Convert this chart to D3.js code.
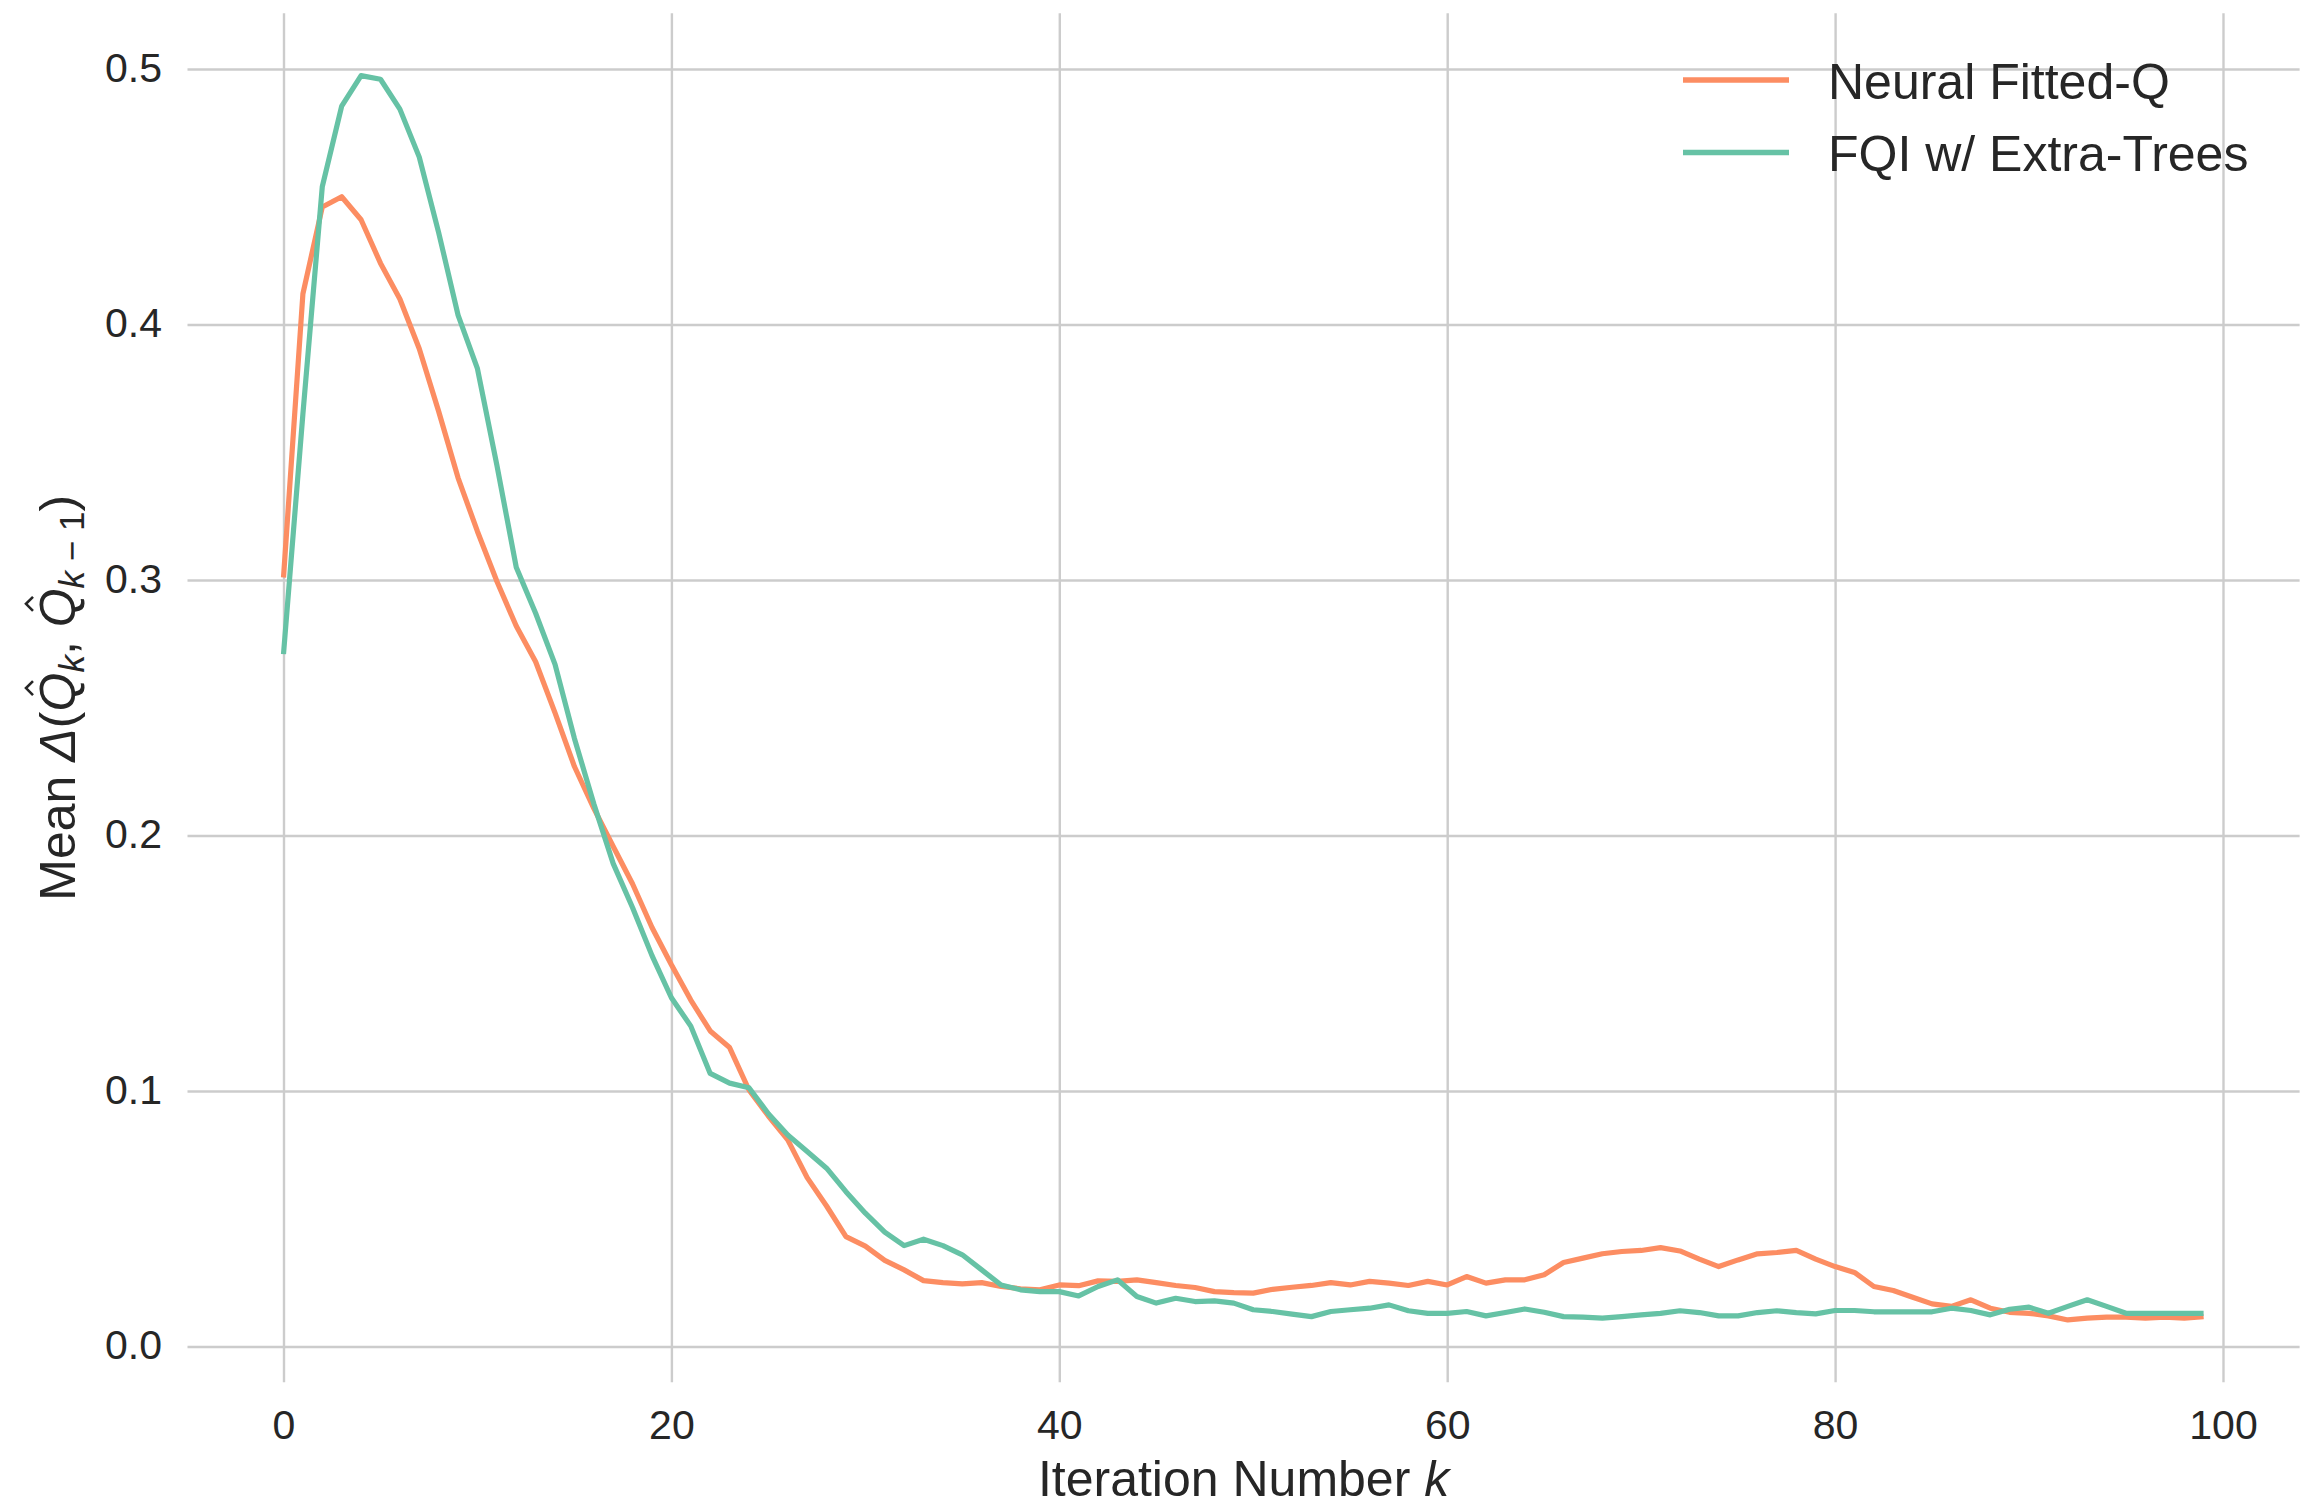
<!DOCTYPE html>
<html>
<head>
<meta charset="utf-8">
<script src="https://cdn.jsdelivr.net/npm/d3@7"></script>
<style>
  html, body { margin: 0; padding: 0; background: #ffffff; }
  svg { display: block; font-family: "Liberation Sans", Arial, sans-serif; }
</style>
</head>
<body>
<svg id="chart" width="2306" height="1508"></svg>
<script>
// ---- data ----
const iterations = d3.range(0, 100);
const seriesNames = ["Neural Fitted-Q", "FQI w/ Extra-Trees"];
const neuralFittedQ = [
  0.301, 0.412, 0.446, 0.450, 0.441, 0.424, 0.410, 0.3905, 0.366, 0.340,
  0.319, 0.2995, 0.282, 0.268, 0.248, 0.227, 0.2106, 0.1957, 0.181, 0.164,
  0.1494, 0.1356, 0.1235, 0.117, 0.1004, 0.0902, 0.0809, 0.0661, 0.055, 0.043,
  0.0393, 0.0337, 0.030, 0.0258, 0.025, 0.0245, 0.025, 0.0235, 0.0226, 0.0222,
  0.0241, 0.0238, 0.0257, 0.0255, 0.0261, 0.025, 0.0239, 0.0231, 0.0215, 0.0211,
  0.0209, 0.0224, 0.0232, 0.0239, 0.025, 0.0241, 0.0255, 0.0248, 0.0239, 0.0255,
  0.0241, 0.0274, 0.0248, 0.0261, 0.0261, 0.0281, 0.0329, 0.0346, 0.0363, 0.0372,
  0.0376, 0.0387, 0.0374, 0.0342, 0.0313, 0.0339, 0.0363, 0.0368, 0.0376, 0.0342,
  0.0313, 0.029, 0.0235, 0.0219, 0.0193, 0.0167, 0.0157, 0.0183, 0.015, 0.0134,
  0.013, 0.012, 0.0104, 0.0111, 0.0115, 0.0115, 0.0111, 0.0115, 0.0111, 0.0117
];
const fqiExtraTrees = [
  0.271, 0.365, 0.454, 0.4855, 0.4974, 0.496, 0.4843, 0.4655, 0.436, 0.4037,
  0.3827, 0.345, 0.305, 0.287, 0.267, 0.238, 0.2124, 0.189, 0.1717, 0.153,
  0.1365, 0.1254, 0.1069, 0.1031, 0.1013, 0.0911, 0.0828, 0.0763, 0.0698, 0.0606,
  0.0522, 0.0448, 0.0395, 0.042, 0.0395, 0.0359, 0.030, 0.0241, 0.0222, 0.0215,
  0.0215, 0.0198, 0.0235, 0.0261, 0.0196, 0.017, 0.0189, 0.0176, 0.0179, 0.017,
  0.0144, 0.0137, 0.0127, 0.0117, 0.0137, 0.0144, 0.015, 0.0163, 0.014, 0.013,
  0.013, 0.0137, 0.012, 0.0133, 0.0147, 0.0134, 0.0117, 0.0115, 0.0111, 0.0117,
  0.0124, 0.013, 0.014, 0.0133, 0.012, 0.012, 0.0133, 0.014, 0.0133, 0.0128,
  0.0141, 0.0141, 0.0136, 0.0136, 0.0136, 0.0136, 0.015, 0.0141, 0.0124, 0.0146,
  0.0154, 0.013, 0.0157, 0.0183, 0.0157, 0.013, 0.013, 0.013, 0.013, 0.013
];
const xTicks = [0, 20, 40, 60, 80, 100];
const yTicks = [0.0, 0.1, 0.2, 0.3, 0.4, 0.5];
const colors = ["#fc8d62", "#66c2a5"];

// ---- layout ----
const svg = d3.select("#chart");
const plotLeft = 187.5, plotRight = 2299.6, plotTop = 13.3, plotBottom = 1382.3;
const textColor = "#262626";
const gridColor = "#cccccc";

const x = d3.scaleLinear().domain([-4.95, 103.95]).range([plotLeft, plotRight]);
const y = d3.scaleLinear().domain([-0.014, 0.5218]).range([plotBottom, plotTop]);

// x grid + labels
const xAxis = d3.axisBottom(x).tickValues(xTicks).tickFormat(d3.format("d"))
  .tickSize(-(plotBottom - plotTop)).tickPadding(28);
const gx = svg.append("g").attr("transform", `translate(0,${plotBottom})`).call(xAxis);
gx.select(".domain").remove();
gx.selectAll(".tick line").attr("stroke", gridColor).attr("stroke-width", 2.4);
gx.selectAll(".tick text").attr("fill", textColor).attr("font-size", 41)
  .attr("font-family", "Liberation Sans, Arial, sans-serif");

// y grid + labels
const yAxis = d3.axisLeft(y).tickValues(yTicks).tickFormat(d3.format(".1f"))
  .tickSize(-(plotRight - plotLeft)).tickPadding(25.5);
const gy = svg.append("g").attr("transform", `translate(${plotLeft},0)`).call(yAxis);
gy.select(".domain").remove();
gy.selectAll(".tick line").attr("stroke", gridColor).attr("stroke-width", 2.4);
gy.selectAll(".tick text").attr("fill", textColor).attr("font-size", 41)
  .attr("font-family", "Liberation Sans, Arial, sans-serif").attr("dy", "0.3em");

// lines
const allSeries = [neuralFittedQ, fqiExtraTrees];
const line = d3.line().x((d, i) => x(iterations[i])).y(d => y(d));
allSeries.forEach((s, i) => {
  svg.append("path").datum(s)
    .attr("d", line)
    .attr("fill", "none")
    .attr("stroke", colors[i])
    .attr("stroke-width", 5.2)
    .attr("stroke-linejoin", "round")
    .attr("stroke-linecap", "butt");
});

// legend
const legend = svg.append("g");
seriesNames.forEach((name, i) => {
  const cy = 80 + i * 72.5;
  legend.append("line").attr("x1", 1683).attr("x2", 1789)
    .attr("y1", cy).attr("y2", cy)
    .attr("stroke", colors[i]).attr("stroke-width", 5.5);
  legend.append("text").attr("x", 1828).attr("y", cy + 18.5)
    .attr("font-size", 50).attr("fill", textColor).text(name);
});

// x label
const xl = svg.append("text").attr("x", (plotLeft + plotRight) / 2).attr("y", 1496)
  .attr("text-anchor", "middle").attr("font-size", 50).attr("fill", textColor);
xl.append("tspan").text("Iteration Number ");
xl.append("tspan").attr("font-style", "italic").text("k");

// y label (math-like layout, rotated)
const yl = svg.append("g");
const segs = [
  { t: "Mean ", size: 50 },
  { t: "Δ", size: 50, italic: true },
  { t: "(", size: 50 },
  { t: "Q", size: 50, italic: true, hat: true },
  { t: "k", size: 35, italic: true, sub: true },
  { t: ", ", size: 50 },
  { t: "Q", size: 50, italic: true, hat: true },
  { t: "k", size: 35, italic: true, sub: true },
  { t: " − 1", size: 35, sub: true },
  { t: ")", size: 50 }
];
let cursor = 0;
segs.forEach(s => {
  const el = yl.append("text").attr("x", cursor).attr("y", s.sub ? 9 : 0)
    .attr("font-size", s.size).attr("fill", textColor)
    .attr("font-style", s.italic ? "italic" : "normal")
    .style("white-space", "pre")
    .text(s.t);
  const w = el.node().getComputedTextLength();
  if (s.hat) {
    const cx = cursor + w / 2 + 4;
    yl.append("path")
      .attr("d", `M${cx - 7},-42 L${cx},-49 L${cx + 7},-42`)
      .attr("fill", "none").attr("stroke", textColor).attr("stroke-width", 2.6);
  }
  cursor += w;
});
const totalW = cursor;
const midY = (plotTop + plotBottom) / 2;
yl.attr("transform", `translate(75,${midY + totalW / 2}) rotate(-90)`);
</script>
</body>
</html>
